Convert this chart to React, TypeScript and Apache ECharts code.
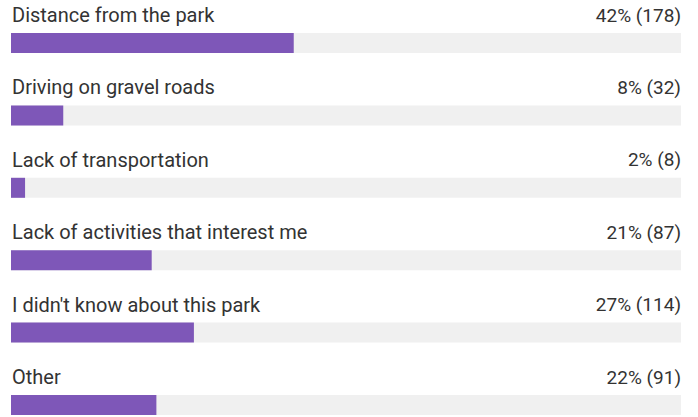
import React, { useEffect, useRef } from "react";
import * as echarts from "echarts";

const categories = [
  "Distance from the park",
  "Driving on gravel roads",
  "Lack of transportation",
  "Lack of activities that interest me",
  "I didn't know about this park",
  "Other",
];
const percents = [42.2, 7.8, 2.1, 21.0, 27.3, 21.7];
const percentLabels = ["42%", "8%", "2%", "21%", "27%", "22%"];
const counts = [178, 32, 8, 87, 114, 91];
const trackMax = [100, 100, 100, 100, 100, 100];

export default function App() {
  const ref = useRef<HTMLDivElement>(null);
  useEffect(() => {
    const chart = echarts.init(ref.current!, null, { renderer: "svg" });
    const font = "Roboto, 'Noto Sans', Arial, sans-serif";
    chart.setOption({
      animation: false,
      grid: { left: 11, right: 17, top: 43, bottom: 12, containLabel: false },
      xAxis: { type: "value", min: 0, max: 100, show: false },
      yAxis: {
        type: "category",
        data: categories,
        inverse: true,
        boundaryGap: false,
        show: false,
      },
      series: [
        {
          type: "bar",
          data: trackMax,
          barWidth: 20,
          itemStyle: { color: "#f0f0f0" },
          silent: true,
          label: {
            show: true,
            position: [1, -18],
            align: "left",
            verticalAlign: "middle",
            formatter: (p: any) => categories[p.dataIndex],
            color: "#333333",
            fontSize: 20,
            fontFamily: font,
          },
        },
        {
          type: "bar",
          data: trackMax,
          barWidth: 20,
          barGap: "-100%",
          itemStyle: { color: "rgba(0,0,0,0)" },
          silent: true,
          label: {
            show: true,
            position: ["100%", -18],
            align: "right",
            verticalAlign: "middle",
            formatter: (p: any) => `${percentLabels[p.dataIndex]} (${counts[p.dataIndex]})`,
            color: "#333333",
            fontSize: 19,
            fontFamily: font,
          },
        },
        {
          type: "bar",
          data: percents,
          barWidth: 20,
          barGap: "-100%",
          itemStyle: { color: "#7e57b8" },
        },
      ],
    });
    return () => chart.dispose();
  }, []);
  return (
    <div
      ref={ref}
      style={{ position: "fixed", left: 0, top: 0, width: 698, height: 417, background: "#fff" }}
    />
  );
}
